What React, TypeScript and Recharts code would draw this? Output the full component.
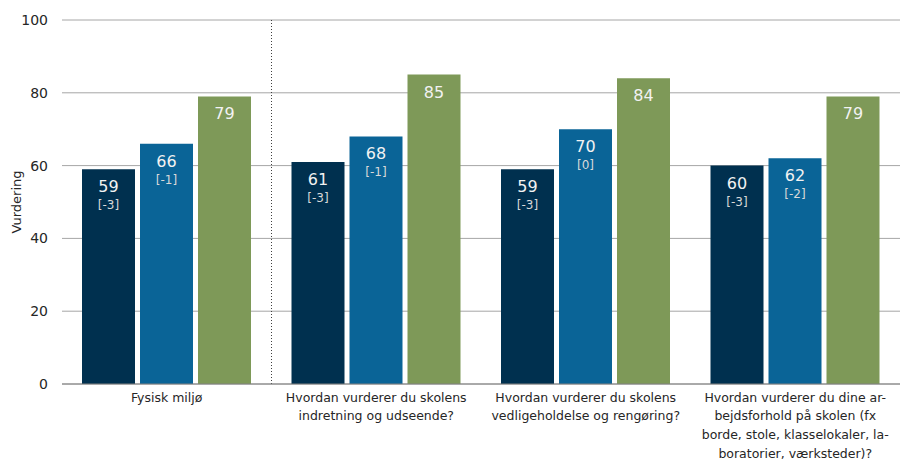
import { BarChart, Bar, XAxis, YAxis, CartesianGrid, LabelList, ReferenceLine } from 'recharts'

const categories = [
  'Fysisk miljø',
  'Hvordan vurderer du skolens indretning og udseende?',
  'Hvordan vurderer du skolens vedligeholdelse og rengøring?',
  'Hvordan vurderer du dine arbejdsforhold på skolen (fx borde, stole, klasselokaler, laboratorier, værksteder)?',
]

const tickLines = [
  ['Fysisk miljø'],
  ['Hvordan vurderer du skolens', 'indretning og udseende?'],
  ['Hvordan vurderer du skolens', 'vedligeholdelse og rengøring?'],
  ['Hvordan vurderer du dine ar-', 'bejdsforhold på skolen (fx', 'borde, stole, klasselokaler, la-', 'boratorier, værksteder)?'],
]

const seriesA = [59, 61, 59, 60]
const changeA = [-3, -3, -3, -3]
const seriesB = [66, 68, 70, 62]
const changeB = [-1, -1, 0, -2]
const seriesC = [79, 85, 84, 79]

const yTicks = [0, 20, 40, 60, 80, 100]

const data = categories.map((name, i) => ({
  name,
  a: seriesA[i],
  da: changeA[i],
  b: seriesB[i],
  db: changeB[i],
  c: seriesC[i],
}))

const FONT = 'DejaVu Sans, sans-serif'

function CategoryTick(props: any) {
  const { x, y, payload } = props
  const lines = tickLines[payload.index] || [payload.value]
  return (
    <g transform={`translate(${x},${y})`}>
      {lines.map((line, i) => (
        <text
          key={i}
          x={0}
          y={i * 18.7 + 9.5}
          textAnchor="middle"
          fontSize={12.5}
          fontFamily={FONT}
          fill="#262626"
        >
          {line}
        </text>
      ))}
    </g>
  )
}

function makeLabel(changes: number[] | null) {
  return (props: any) => {
    const { x, y, width, value, index } = props
    const cx = x + width / 2
    return (
      <g>
        <text x={cx} y={y + 23} textAnchor="middle" fontSize={16} fontFamily={FONT} fill="#f2f2f2">
          {value}
        </text>
        {changes && (
          <text x={cx} y={y + 40} textAnchor="middle" fontSize={12} fontFamily={FONT} fill="#d9d9d9">
            [{changes[index]}]
          </text>
        )}
      </g>
    )
  }
}

export default function App() {
  return (
    <div style={{ position: 'fixed', left: 0, top: 0, background: '#fff' }}>
      <BarChart
        width={901}
        height={461}
        data={data}
        margin={{ top: 20, right: 1, left: 0, bottom: 0 }}
        barSize={53}
        barGap={5}
      >
        <CartesianGrid vertical={false} stroke="#a6a6a6" strokeWidth={1} />
        <XAxis
          dataKey="name"
          tickLine={false}
          axisLine={{ stroke: '#808080' }}
          interval={0}
          height={77}
          tick={<CategoryTick />}
        />
        <YAxis
          width={62}
          domain={[0, 100]}
          ticks={yTicks}
          axisLine={false}
          tickLine={false}
          tickMargin={8}
          tick={{ fontSize: 14, fontFamily: FONT, fill: '#262626' }}
          label={{
            value: 'Vurdering',
            angle: -90,
            position: 'insideLeft',
            offset: 16,
            style: { fontSize: 13, fontFamily: FONT, fill: '#262626', textAnchor: 'middle' },
          }}
        />
        <ReferenceLine
          x={categories[0]}
          position="end"
          stroke="#404040"
          strokeDasharray="1 2"
        />
        <Bar dataKey="a" fill="#00304f" isAnimationActive={false}>
          <LabelList dataKey="a" content={makeLabel(changeA)} />
        </Bar>
        <Bar dataKey="b" fill="#0a6497" isAnimationActive={false}>
          <LabelList dataKey="b" content={makeLabel(changeB)} />
        </Bar>
        <Bar dataKey="c" fill="#7e9958" isAnimationActive={false}>
          <LabelList dataKey="c" content={makeLabel(null)} />
        </Bar>
      </BarChart>
    </div>
  )
}
